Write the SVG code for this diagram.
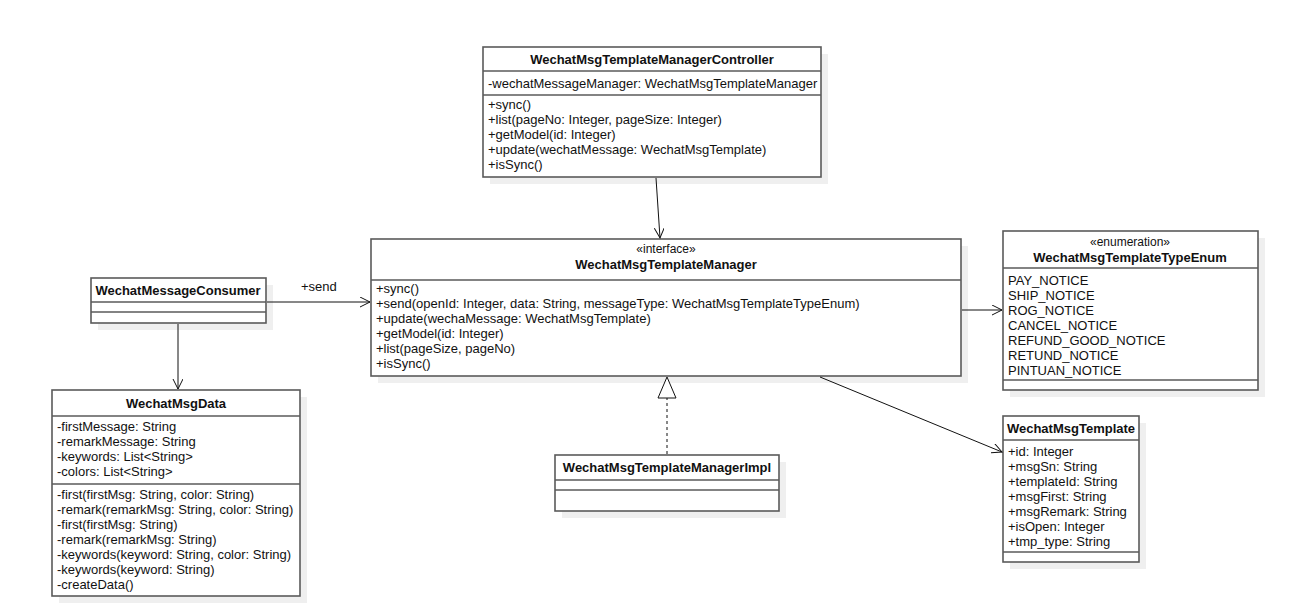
<svg xmlns="http://www.w3.org/2000/svg" width="1290" height="610" viewBox="0 0 1290 610">
<defs>
<style>
.bg{fill:#ffffff}
.sh{fill:#efefef}
.box{fill:#ffffff;stroke:#5a5a5a;stroke-width:1.6}
.sep{stroke:#5a5a5a;stroke-width:1.6}
text{font-family:"Liberation Sans",Arial,sans-serif;font-size:13px;fill:#111}
.t{font-weight:bold;text-anchor:middle}
.st{font-size:12px;text-anchor:middle}
.c{stroke:#111;stroke-width:1;fill:none}
</style>
<marker id="open" markerWidth="12" markerHeight="12" refX="10" refY="5" orient="auto" markerUnits="userSpaceOnUse">
<path d="M0,0 L10,5 L0,10" fill="none" stroke="#111" stroke-width="1"/>
</marker>
</defs>
<rect class="bg" width="1290" height="610"/>

<g id="controller">
<rect class="sh" x="490" y="54" width="338" height="130"/>
<rect class="box" x="483" y="47" width="338" height="130"/>
<line class="sep" x1="483" y1="71" x2="821" y2="71"/>
<line class="sep" x1="483" y1="95" x2="821" y2="95"/>
<text class="t" x="652" y="64">WechatMsgTemplateManagerController</text>
<text x="488" y="88">-wechatMessageManager: WechatMsgTemplateManager</text>
<text x="488" y="109">+sync()</text>
<text x="488" y="124">+list(pageNo: Integer, pageSize: Integer)</text>
<text x="488" y="139">+getModel(id: Integer)</text>
<text x="488" y="154">+update(wechatMessage: WechatMsgTemplate)</text>
<text x="488" y="169">+isSync()</text>
</g>

<g id="manager">
<rect class="sh" x="378" y="246" width="590" height="137"/>
<rect class="box" x="371" y="239" width="590" height="137"/>
<line class="sep" x1="371" y1="280" x2="961" y2="280"/>
<text class="st" x="666" y="253">«interface»</text>
<text class="t" x="666" y="269">WechatMsgTemplateManager</text>
<text x="376" y="293">+sync()</text>
<text x="376" y="308">+send(openId: Integer, data: String, messageType: WechatMsgTemplateTypeEnum)</text>
<text x="376" y="323">+update(wechaMessage: WechatMsgTemplate)</text>
<text x="376" y="338">+getModel(id: Integer)</text>
<text x="376" y="353">+list(pageSize, pageNo)</text>
<text x="376" y="368">+isSync()</text>
</g>

<g id="consumer">
<rect class="sh" x="98" y="285" width="175" height="45"/>
<rect class="box" x="91" y="278" width="175" height="45"/>
<line class="sep" x1="91" y1="302" x2="266" y2="302"/>
<line class="sep" x1="91" y1="312" x2="266" y2="312"/>
<text class="t" x="178" y="295">WechatMessageConsumer</text>
</g>

<g id="msgdata">
<rect class="sh" x="59" y="397" width="248" height="206"/>
<rect class="box" x="52" y="390" width="248" height="206"/>
<line class="sep" x1="52" y1="416" x2="300" y2="416"/>
<line class="sep" x1="52" y1="484" x2="300" y2="484"/>
<text class="t" x="176" y="408">WechatMsgData</text>
<text x="57" y="431">-firstMessage: String</text>
<text x="57" y="446">-remarkMessage: String</text>
<text x="57" y="461">-keywords: List&lt;String&gt;</text>
<text x="57" y="476">-colors: List&lt;String&gt;</text>
<text x="57" y="499">-first(firstMsg: String, color: String)</text>
<text x="57" y="514">-remark(remarkMsg: String, color: String)</text>
<text x="57" y="529">-first(firstMsg: String)</text>
<text x="57" y="544">-remark(remarkMsg: String)</text>
<text x="57" y="559">-keywords(keyword: String, color: String)</text>
<text x="57" y="574">-keywords(keyword: String)</text>
<text x="57" y="589">-createData()</text>
</g>

<g id="typeenum">
<rect class="sh" x="1010" y="238" width="255" height="159"/>
<rect class="box" x="1003" y="231" width="255" height="159"/>
<line class="sep" x1="1003" y1="268" x2="1258" y2="268"/>
<line class="sep" x1="1003" y1="380" x2="1258" y2="380"/>
<text class="st" x="1130" y="246">«enumeration»</text>
<text class="t" x="1130" y="262">WechatMsgTemplateTypeEnum</text>
<text x="1008" y="285">PAY_NOTICE</text>
<text x="1008" y="300">SHIP_NOTICE</text>
<text x="1008" y="315">ROG_NOTICE</text>
<text x="1008" y="330">CANCEL_NOTICE</text>
<text x="1008" y="345">REFUND_GOOD_NOTICE</text>
<text x="1008" y="360">RETUND_NOTICE</text>
<text x="1008" y="375">PINTUAN_NOTICE</text>
</g>

<g id="template">
<rect class="sh" x="1010" y="423" width="136" height="146"/>
<rect class="box" x="1003" y="416" width="136" height="146"/>
<line class="sep" x1="1003" y1="440" x2="1139" y2="440"/>
<line class="sep" x1="1003" y1="552" x2="1139" y2="552"/>
<text class="t" x="1071" y="433">WechatMsgTemplate</text>
<text x="1008" y="456">+id: Integer</text>
<text x="1008" y="471">+msgSn: String</text>
<text x="1008" y="486">+templateId: String</text>
<text x="1008" y="501">+msgFirst: String</text>
<text x="1008" y="516">+msgRemark: String</text>
<text x="1008" y="531">+isOpen: Integer</text>
<text x="1008" y="546">+tmp_type: String</text>
</g>

<g id="impl">
<rect class="sh" x="562" y="462" width="224" height="56"/>
<rect class="box" x="555" y="455" width="224" height="56"/>
<line class="sep" x1="555" y1="480" x2="779" y2="480"/>
<line class="sep" x1="555" y1="490" x2="779" y2="490"/>
<text class="t" x="667" y="472">WechatMsgTemplateManagerImpl</text>
</g>

<g id="connectors">
<line class="c" x1="656" y1="178" x2="660" y2="238" marker-end="url(#open)"/>
<line class="c" x1="267" y1="302" x2="370" y2="302" marker-end="url(#open)"/>
<text x="301" y="291">+send</text>
<line class="c" x1="178" y1="324" x2="178" y2="389" marker-end="url(#open)"/>
<line class="c" x1="962" y1="310" x2="1002" y2="310" marker-end="url(#open)"/>
<line class="c" x1="820" y1="377" x2="1002" y2="452" marker-end="url(#open)"/>
<line class="c" x1="667" y1="454" x2="667" y2="398" stroke-dasharray="3,3"/>
<polygon points="667,377 658,398 676,398" fill="#fff" stroke="#111" stroke-width="1"/>
</g>
</svg>
